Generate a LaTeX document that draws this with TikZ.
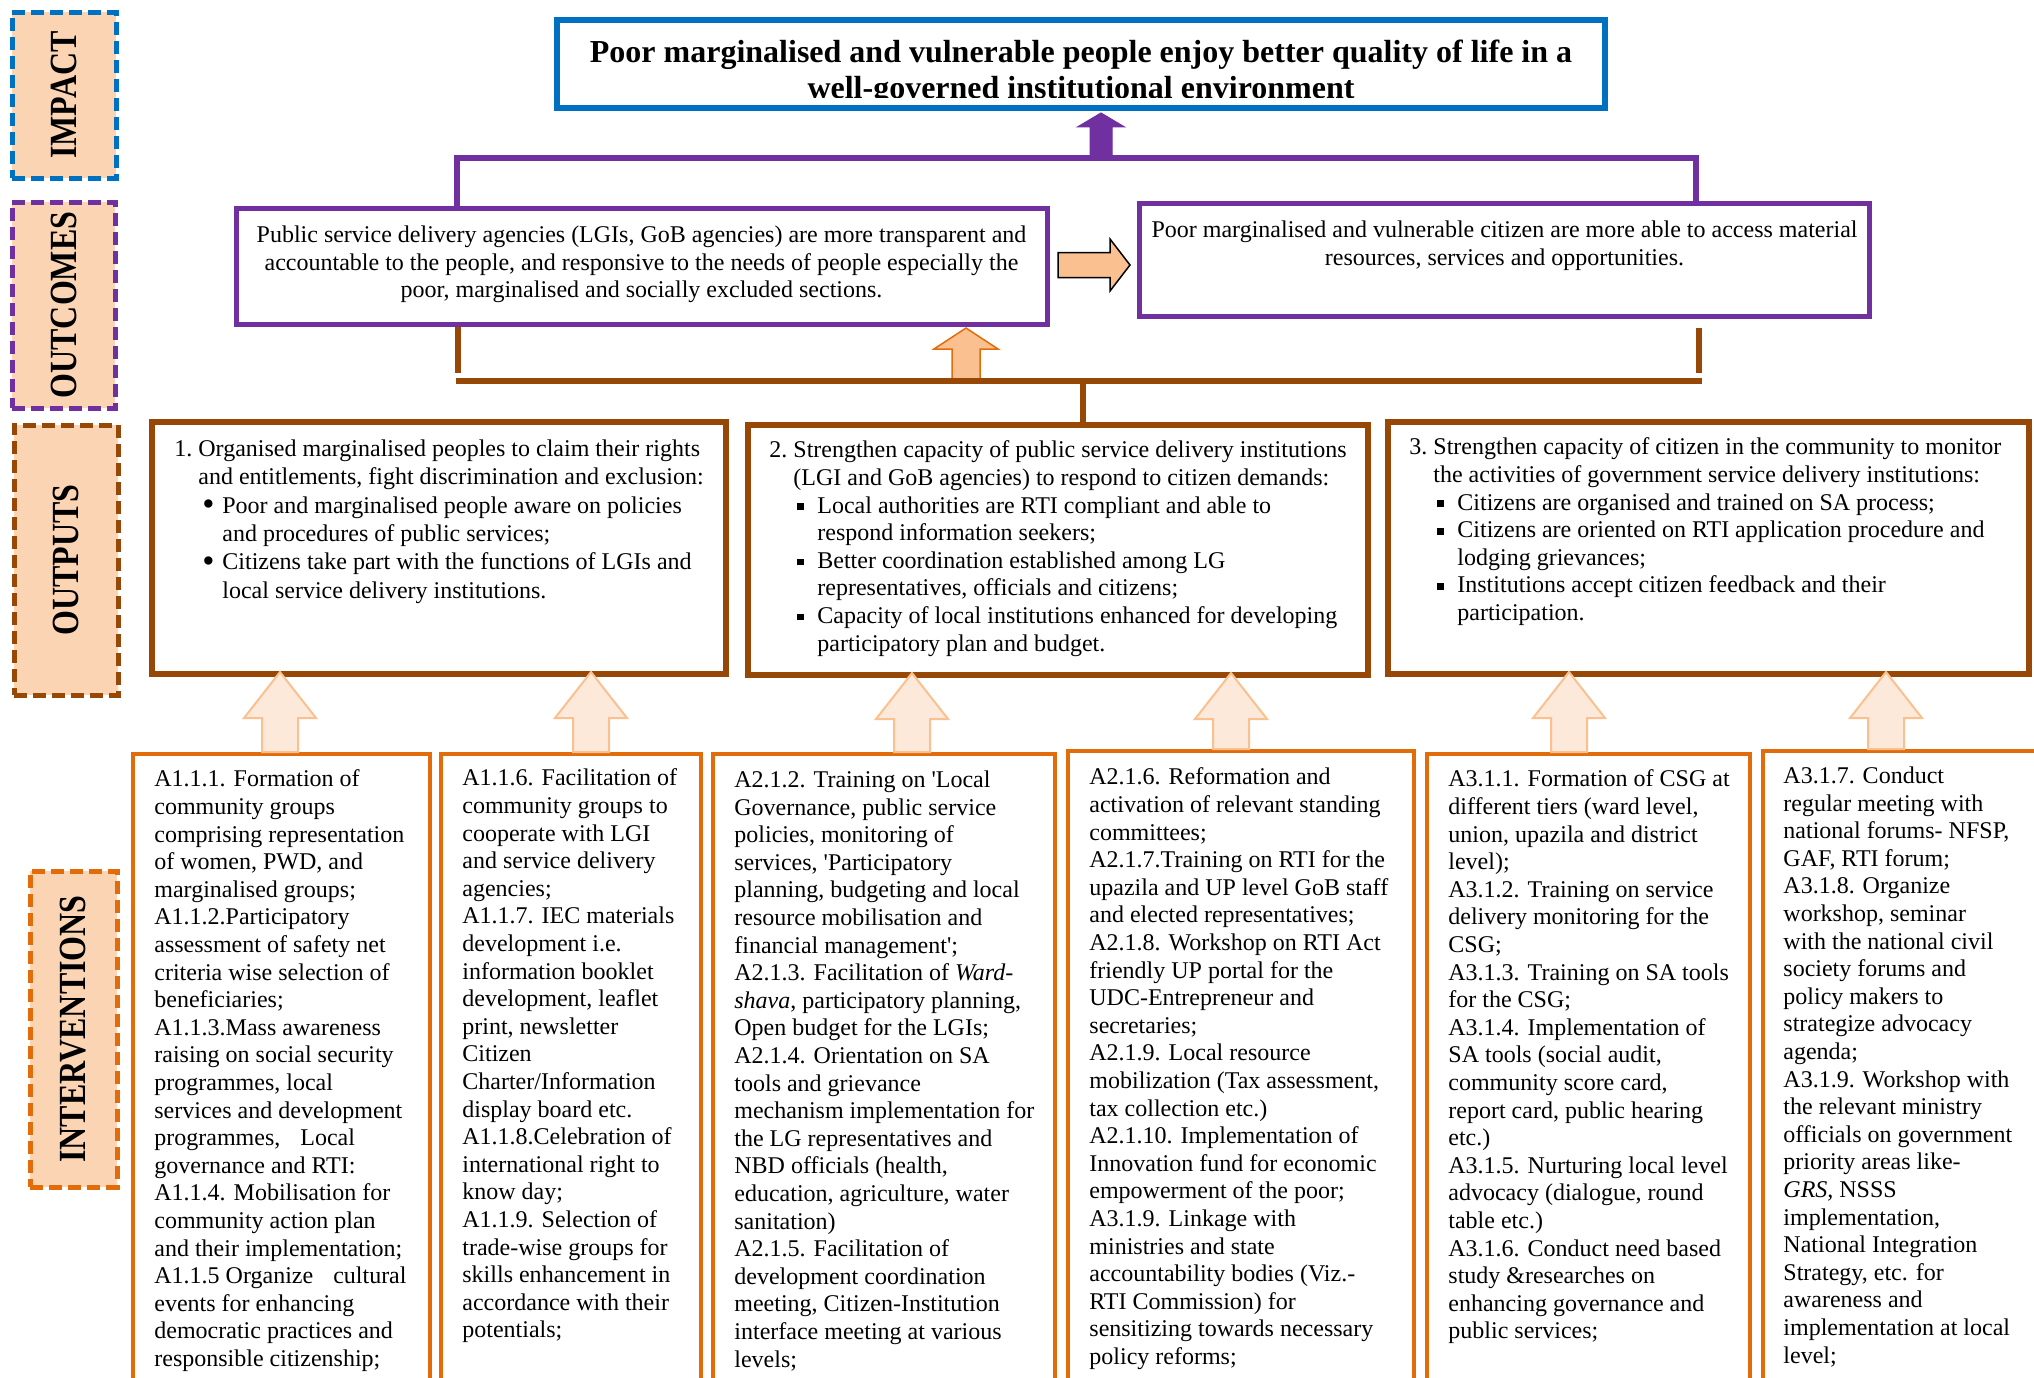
\documentclass[tikz,border=0pt]{standalone}
\usepackage{fontspec}
\setmainfont{Liberation Serif}
\usetikzlibrary{calc,fit}

\definecolor{impblue}{HTML}{0070C0}
\definecolor{outpurple}{HTML}{7030A0}
\definecolor{outbrown}{HTML}{984806}
\definecolor{actorange}{HTML}{E36C0A}
\definecolor{peach}{HTML}{FBD4B4}
\definecolor{arrfill}{HTML}{FAC090}
\definecolor{litfill}{HTML}{FDE9D9}

% block arrow pointing up: style, x, foot, tip, shaft half, head half, head length
\newcommand{\blockup}[7]{%
  \draw[#1] let \p1=(#3), \p2=(#4), \p3=(#2,0) in
    (\x3,\y2) -- (\x3+#6,\y2-#7) -- (\x3+#5,\y2-#7) -- (\x3+#5,\y1)
    -- (\x3-#5,\y1) -- (\x3-#5,\y2-#7) -- (\x3-#6,\y2-#7) -- cycle;}
\newcommand{\sqbul}{\rule[1.5pt]{3.3pt}{3.3pt}}
\newcommand{\rndbul}{\raisebox{-1.4pt}{\scalebox{1.45}{\textbullet}}}
\newcommand{\outitem}[1]{\hspace*{14pt}\makebox[10pt][l]{#1}}
\newcommand{\outcont}{\hspace*{24pt}}
\newcommand{\apos}{\textquotesingle}
\newcommand{\lbl}[1]{\scalebox{1}[1.2]{#1}}

\begin{document}
\begin{tikzpicture}[x=0.5pt,y=-0.5pt,
  every node/.style={inner sep=0pt},
  lblbox/.style={draw=#1, dash pattern=on 6.5pt off 3pt, line width=2.5pt, fill=peach},
  lbltext/.style={rotate=90, font=\fontsize{16}{16}\selectfont\bfseries},
  impbox/.style={draw=impblue, line width=2.75pt},
  ocbox/.style={draw=outpurple, line width=2.5pt},
  opbox/.style={draw=outbrown, line width=3pt},
  actbox/.style={draw=actorange, line width=2pt},
  txt/.style={anchor=north west, align=left, font=\fontsize{12}{13.8}\selectfont},
  purpln/.style={draw=outpurple, line width=3pt},
  brownln/.style={draw=outbrown, line width=3pt},
  parr/.style={fill=outpurple, draw=outpurple, line width=0.5pt},
  marr/.style={fill=arrfill, draw=actorange, line width=0.75pt},
  rarr/.style={fill=arrfill, draw=black, line width=0.75pt},
  litarr/.style={fill=litfill, draw=arrfill, line width=1pt}]

\useasboundingbox (0,0) rectangle (2034,1377);
\clip (0,0) rectangle (2034,1377);

% side labels
\node[lblbox=impblue, fit={(12,12) (116,178)}] (limp) {};
\node[lbltext] at (limp.center) {\lbl{IMPACT}};
\node[lblbox=outpurple, fit={(12,202) (115,408)}] (locm) {};
\node[lbltext] at (locm.center) {\lbl{OUTCOMES}};
\node[lblbox=outbrown, fit={(14,425) (118,695)}] (lopt) {};
\node[lbltext] at (lopt.center) {\lbl{OUTPUTS}};
\node[lblbox=actorange, fit={(30,871) (117,1187)}] (lint) {};
\node[lbltext] at (lint.center) {\lbl{INTERVENTIONS}};

% impact
\node[impbox, fit={(557,20) (1605,108)}] (imp) {};
\begin{scope}
\clip (562,24) rectangle (1600,97.5);
\node[anchor=north, align=center, font=\fontsize{16}{17.75}\selectfont\bfseries] (imptxt) at (1081,40)
  {Poor marginalised and vulnerable people enjoy better quality of life in a\\
   well-governed institutional environment};
\end{scope}

% outcomes
\node[ocbox, fit={(236,208) (1047,324)}] (oc1) {};
\node[ocbox, fit={(1139.5,203.5) (1869.5,316.5)}] (oc2) {};
\node[txt, anchor=north, align=center] (oct1) at (641.5,225.5)
  {Public service delivery agencies (LGIs, GoB agencies) are more transparent and\\
   accountable to the people, and responsive to the needs of people especially the\\
   poor, marginalised and socially excluded sections.};
\node[txt, anchor=north, align=center] (oct2) at (1504.5,220.5)
  {Poor marginalised and vulnerable citizen are more able to access material\\
   resources, services and opportunities.};

\coordinate (pl) at (457,157.5);
\coordinate (pr) at (1696,157.5);
\draw[purpln] (oc1.north -| pl) -- (pl) -- (pr) -- (oc2.north -| pr);
\blockup{parr}{1101}{pl}{[yshift=-1.1pt]imp.south}{5.5pt}{11.75pt}{7pt}

\draw[rarr] let \p1=([xshift=4.25pt,yshift=0.5pt]oc1.east), \p2=([xshift=-3.5pt]oc2.west) in
  (\x1,\y1+6.25pt) -- (\x2-10pt,\y1+6.25pt) -- (\x2-10pt,\y1+13pt) -- (\x2,\y1)
  -- (\x2-10pt,\y1-13pt) -- (\x2-10pt,\y1-6.25pt) -- (\x1,\y1-6.25pt) -- cycle;

% outputs
\node[opbox, fit={(152,422) (726,674)}] (op1) {};
\node[opbox, fit={(748,425) (1368,675)}] (op2) {};
\node[opbox, fit={(1388,422) (2029,674)}] (op3) {};

\coordinate (bl) at (457.5,381);
\coordinate (br) at (1699,381);
\coordinate (bm) at (1083,381);
\blockup{marr}{966}{bl}{[yshift=-0.75pt]oc1.south}{7pt}{16pt}{10.5pt}
\draw[brownln] (oc1.south -| bl) -- ++(0,46.5);
\draw[brownln] ([yshift=-4.5pt]oc2.south -| br) -- ++(0,45);
\draw[brownln] ([xshift=-0.75pt]bl) -- ([xshift=1.5pt]br);
\draw[brownln] (bm) -- (bm |- op2.north);

\node[txt, font=\fontsize{12}{14.15}\selectfont] (opt1) at (174,439.5)
  {1.\ Organised marginalised peoples to claim their rights\\
   \hspace*{12pt}and entitlements, fight discrimination and exclusion:\\
   \outitem{\rndbul}Poor and marginalised people aware on policies\\
   \outcont and procedures of public services;\\
   \outitem{\rndbul}Citizens take part with the functions of LGIs and\\
   \outcont local service delivery institutions.};
\node[txt] (opt2) at (769,440.5)
  {2.\ Strengthen capacity of public service delivery institutions\\
   \hspace*{12pt}(LGI and GoB agencies) to respond to citizen demands:\\
   \outitem{\sqbul}Local authorities are RTI compliant and able to\\
   \outcont respond information seekers;\\
   \outitem{\sqbul}Better coordination established among LG\\
   \outcont representatives, officials and citizens;\\
   \outitem{\sqbul}Capacity of local institutions enhanced for developing\\
   \outcont participatory plan and budget.};
\node[txt] (opt3) at (1409,437.5)
  {3.\ Strengthen capacity of citizen in the community to monitor\\
   \hspace*{12pt}the activities of government service delivery institutions:\\
   \outitem{\sqbul}Citizens are organised and trained on SA process;\\
   \outitem{\sqbul}Citizens are oriented on RTI application procedure and\\
   \outcont lodging grievances;\\
   \outitem{\sqbul}Institutions accept citizen feedback and their\\
   \outcont participation.};

% interventions
\node[actbox, fit={(133,754) (430,1420)}] (a1) {};
\node[actbox, fit={(441,754) (701,1420)}] (a2) {};
\node[actbox, fit={(713,754) (1055,1420)}] (a3) {};
\node[actbox, fit={(1068,751) (1414,1420)}] (a4) {};
\node[actbox, fit={(1427,754) (1750,1420)}] (a5) {};
\node[actbox, fit={(1763,751) (2080,1420)}] (a6) {};

\blockup{litarr}{280}{a1.north}{[yshift=2.5pt]op1.south}{9pt}{18pt}{23pt}
\blockup{litarr}{591}{a2.north}{[yshift=2.5pt]op1.south}{9pt}{18pt}{23pt}
\blockup{litarr}{912}{a3.north}{[yshift=2.5pt]op2.south}{9pt}{18pt}{23pt}
\blockup{litarr}{1231}{a4.north}{[yshift=2.5pt]op2.south}{9pt}{18pt}{23pt}
\blockup{litarr}{1569}{a5.north}{[yshift=2.5pt]op3.south}{9pt}{18pt}{23pt}
\blockup{litarr}{1886}{a6.north}{[yshift=2.5pt]op3.south}{9pt}{18pt}{23pt}

\node[txt] (at1) at (154,769.5)
  {A1.1.1. Formation of\\ community groups\\ comprising representation\\
   of women, PWD, and\\ marginalised groups;\\ A1.1.2.Participatory\\
   assessment of safety net\\ criteria wise selection of\\ beneficiaries;\\
   A1.1.3.Mass awareness\\ raising on social security\\ programmes, local\\
   services and development\\ programmes,\hspace{10pt}Local\\ governance and RTI:\\
   A1.1.4. Mobilisation for\\ community action plan\\ and their implementation;\\
   A1.1.5 Organize\hspace{10pt}cultural\\ events for enhancing\\
   democratic practices and\\ responsible citizenship;};
\node[txt] (at2) at (462,768.5)
  {A1.1.6. Facilitation of\\ community groups to\\ cooperate with LGI\\
   and service delivery\\ agencies;\\ A1.1.7. IEC materials\\ development i.e.\\
   information booklet\\ development, leaflet\\ print, newsletter\\ Citizen\\
   Charter/Information\\ display board etc.\\ A1.1.8.Celebration of\\
   international right to\\ know day;\\ A1.1.9. Selection of\\
   trade-wise groups for\\ skills enhancement in\\ accordance with their\\ potentials;};
\node[txt] (at3) at (734,770.5)
  {A2.1.2. Training on \apos Local\\ Governance, public service\\
   policies, monitoring of\\ services, \apos Participatory\\
   planning, budgeting and local\\ resource mobilisation and\\
   financial management\apos;\\ A2.1.3. Facilitation of \textit{Ward-}\\
   \textit{shava}, participatory planning,\\ Open budget for the LGIs;\\
   A2.1.4. Orientation on SA\\ tools and grievance\\ mechanism implementation for\\
   the LG representatives and\\ NBD officials (health,\\ education, agriculture, water\\
   sanitation)\\ A2.1.5. Facilitation of\\ development coordination\\
   meeting, Citizen-Institution\\ interface meeting at various\\ levels;};
\node[txt] (at4) at (1089,767.5)
  {A2.1.6. Reformation and\\ activation of relevant standing\\ committees;\\
   A2.1.7.Training on RTI for the\\ upazila and UP level GoB staff\\
   and elected representatives;\\ A2.1.8. Workshop on RTI Act\\
   friendly UP portal for the\\ UDC-Entrepreneur and\\ secretaries;\\
   A2.1.9. Local resource\\ mobilization (Tax assessment,\\ tax collection etc.)\\
   A2.1.10. Implementation of\\ Innovation fund for economic\\
   empowerment of the poor;\\ A3.1.9. Linkage with\\ ministries and state\\
   accountability bodies (Viz.-\\ RTI Commission) for\\
   sensitizing towards necessary\\ policy reforms;};
\node[txt] (at5) at (1448,769.5)
  {A3.1.1. Formation of CSG at\\ different tiers (ward level,\\
   union, upazila and district\\ level);\\ A3.1.2. Training on service\\
   delivery monitoring for the\\ CSG;\\ A3.1.3. Training on SA tools\\
   for the CSG;\\ A3.1.4. Implementation of\\ SA tools (social audit,\\
   community score card,\\ report card, public hearing\\ etc.)\\
   A3.1.5. Nurturing local level\\ advocacy (dialogue, round\\ table etc.)\\
   A3.1.6. Conduct need based\\ study \&researches on\\
   enhancing governance and\\ public services;};
\node[txt] (at6) at (1783,766.5)
  {A3.1.7. Conduct\\ regular meeting with\\ national forums- NFSP,\\
   GAF, RTI forum;\\ A3.1.8. Organize\\ workshop, seminar\\
   with the national civil\\ society forums and\\ policy makers to\\
   strategize advocacy\\ agenda;\\ A3.1.9. Workshop with\\
   the relevant ministry\\ officials on government\\ priority areas like-\\
   \textit{GRS,} NSSS\\ implementation,\\ National Integration\\
   Strategy, etc. for\\ awareness and\\ implementation at local\\ level;};

\end{tikzpicture}
\end{document}
